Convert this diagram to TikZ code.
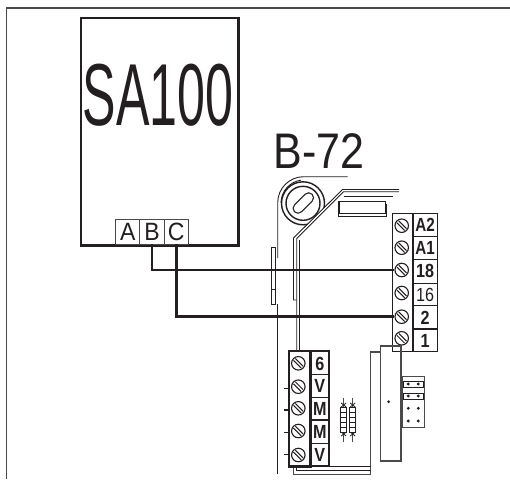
\documentclass[tikz,border=0pt]{standalone}
\usepackage{fontspec}
\setmainfont{Liberation Sans}
\definecolor{ink}{HTML}{231F20}
\definecolor{soft}{HTML}{4A4A4A}
\tikzset{
  frameline/.style={draw=soft,line width=1.6pt},
  unit/.style={draw=ink,line width=2.5pt},
  wire/.style={draw=ink,line width=2.6pt,line join=miter},
  thin part/.style={draw=ink,line width=.9pt},
  gray part/.style={draw=soft,line width=1.1pt},
  mid part/.style={draw=ink,line width=1.4pt},
  screwhead/.style={circle,draw=ink,line width=1.1pt,fill=white,minimum size=13.5pt,inner sep=0pt},
  abc/.style={draw=soft,line width=.7pt,fill=white,minimum width=24.4pt,minimum height=24.5pt,inner sep=0pt,font=\fontsize{25}{25}\selectfont,text=ink},
  termtext/.style={font=\fontsize{19}{19}\selectfont\bfseries,text=ink,inner sep=0pt},
  pin/.style={fill=ink,circle,inner sep=0pt,minimum size=3.2pt},
}
\newcommand{\myscrew}[3]{%
  \node[screwhead] (#1) at (#2,#3) {};
  \draw[ink,line width=1pt] (#2-4.8,#3-2.9) -- (#2+2.9,#3+4.8) (#2-2.9,#3-4.8) -- (#2+4.8,#3+2.9);
}
\newcommand{\myfuse}[1]{%
  \draw[soft,line width=1.2pt] (#1,398) -- (#1,442);
  \draw[ink,line width=.8pt] (#1-2.5,403) -- (#1+2.5,407) (#1+2.5,403) -- (#1-2.5,407)
     (#1-2.5,432) -- (#1+2.5,436) (#1+2.5,432) -- (#1-2.5,436);
  \draw[ink,line width=1pt,fill=white] (#1-3.2,407) rectangle (#1+3.2,432);
  \foreach \yy in {412,417,422,427} \draw[ink,line width=.8pt] (#1-3.2,\yy) -- (#1+3.2,\yy);
}
\begin{document}
\begin{tikzpicture}[x=1pt,y=-1pt]
\useasboundingbox (0,0) rectangle (510,479);
\fill[white] (0,0) rectangle (510,479);
% frame
\draw[frameline] (6.5,479) -- (6.5,8) -- (510,8);
% SA100 unit
\node[unit,anchor=north west,minimum width=157.5pt,minimum height=227.5pt,inner sep=0pt] (sa) at (79.5,16.5) {};
\node[inner sep=0pt,text=ink] (saname) at (158,95) {\scalebox{.57}[1]{\fontsize{88}{88}\selectfont SA100}};
\node[abc] (A) at (127.7,231.8) {\scalebox{.92}[1]{A}};
\node[abc] (B) at (152,231.8) {\scalebox{.92}[1]{B}};
\node[abc] (C) at (176.3,231.8) {\scalebox{.92}[1]{C}};
\node[inner sep=0pt,text=ink] (bname) at (319,151.5) {\scalebox{.86}[1]{\fontsize{50}{50}\selectfont B-72}};
% chassis: left bracket and outer line
\draw[thin part] (277.7,258) -- (277.7,202.7) arc[start angle=180,end angle=270,radius=26] -- (347.7,176.7);
\draw[thin part] (281,203) arc[start angle=180,end angle=262,radius=23];
\draw[thin part] (277.7,304) -- (277.7,474);
\draw[thin part,fill=white] (271.7,247.3) rectangle (275.7,304);
\draw[thin part] (271.7,289.5) -- (275.7,289.5);
% roller
\draw[mid part,fill=white] (303,203.3) circle[radius=21.5];
\draw[mid part] (303,203.3) circle[radius=17];
\draw[ink,line width=11pt,line cap=round] (298,208.3) -- (308.6,197.7);
\draw[white,line width=8.4pt,line cap=round] (298,208.3) -- (308.6,197.7);
% diagonal plate
\fill[white] (342.5,189.5) -- (294,238) -- (294,244) -- (299.3,240) -- (344,194) -- cycle;
\draw[thin part] (399,189.5) -- (342.5,189.5) -- (293.5,238) -- (293.5,300) -- (296.7,300);
\draw[thin part] (399,191.7) -- (343.5,191.7) -- (296.7,238.5) -- (296.7,351);
\draw[thin part] (299.3,240) -- (299.3,351);
\draw[thin part] (343.5,196) -- (392.7,196);
% window
\draw[thin part] (339.3,201) rectangle (385,213);
\draw[thin part] (338.3,201) -- (338.3,216) -- (386.7,216) -- (386.7,204);
% terminal block
\draw[mid part,fill=white] (392.7,213.3) rectangle (412.7,351.7);
\draw[mid part] (412.7,213.3) rectangle (437.3,351.7);
\draw[line width=2pt,ink] (412.7,213.3) -- (412.7,351.7);
\foreach \yy in {236.7,259.3,283.3,305.7,329} \draw[mid part] (412.7,\yy) -- (437.3,\yy);
\myscrew{sA2}{401.7}{225.7}
\myscrew{sA1}{401.7}{247.7}
\myscrew{s18}{401.7}{270}
\myscrew{s16}{401.7}{293}
\myscrew{s2}{401.7}{316.7}
\myscrew{s1}{401.7}{338.3}
\node[termtext] (tA2) at (425.2,225.2) {\scalebox{.8}[1]{A2}};
\node[termtext] (tA1) at (425.2,248) {\scalebox{.8}[1]{A1}};
\node[termtext] (t18) at (425.2,271) {\scalebox{.85}[1]{18}};
\node[termtext,font=\fontsize{19}{19}\selectfont] (t16) at (425.2,295) {\scalebox{.85}[1]{16}};
\node[termtext] (t2) at (425.2,317.5) {\scalebox{.85}[1]{2}};
\node[termtext] (t1) at (425.2,340.5) {\scalebox{.85}[1]{1}};
\draw[wire] (B.south) |- (s18.west);
\draw[wire] (C.south) |- (s2.west);
% bottom cables
\draw[gray part] (293.3,466.7) -- (293.3,474.5) -- (370.7,474.5) -- (370.7,352) -- (380.7,352);
\draw[thin part] (296.7,466.7) -- (296.7,470) -- (370.7,470);
\draw[thin part] (310.7,466) -- (370.7,466);
% tall box
\draw[gray part,line width=1.6pt] (380.3,346) rectangle (401,460.7);
\node[pin,minimum size=3pt] (dot) at (388.7,401.7) {};
% jumper block
\draw[gray part,fill=white] (402.7,376.7) rectangle (424.3,427.7);
\draw[thin part] (403.5,381) rectangle (423.3,387);
\draw[thin part] (403.5,393.3) rectangle (423.3,399);
\foreach \yy in {384,396,408.3,421} {
  \node[pin] at (408.3,\yy) {};
  \node[pin] at (418.3,\yy) {};
}
% fuses
\myfuse{343.7}
\myfuse{352.7}
% lower block
\draw[mid part] (310.7,351) rectangle (329,466);
\foreach \yy in {374.3,397.3,420,443.3} \draw[mid part] (310.7,\yy) -- (329,\yy);
\foreach \yy in {388.3,410,432.7,454.3} \draw[ink,line width=1.3pt] (284,\yy) -- (289,\yy);
\myscrew{l1}{298.3}{363.3}
\myscrew{l2}{298.3}{386.7}
\myscrew{l3}{298.3}{408.3}
\myscrew{l4}{298.3}{431}
\myscrew{l5}{298.3}{455}
\draw[unit] (289,351) rectangle (310.7,466.7);
\node[termtext] (t6) at (319.8,364) {\scalebox{.85}[1]{6}};
\node[termtext] (tV) at (319.8,386) {\scalebox{.85}[1]{V}};
\node[termtext] (tM) at (319.8,409) {\scalebox{.85}[1]{M}};
\node[termtext] (tMb) at (319.8,432) {\scalebox{.85}[1]{M}};
\node[termtext] (tVb) at (319.8,455) {\scalebox{.85}[1]{V}};
\end{tikzpicture}
\end{document}
